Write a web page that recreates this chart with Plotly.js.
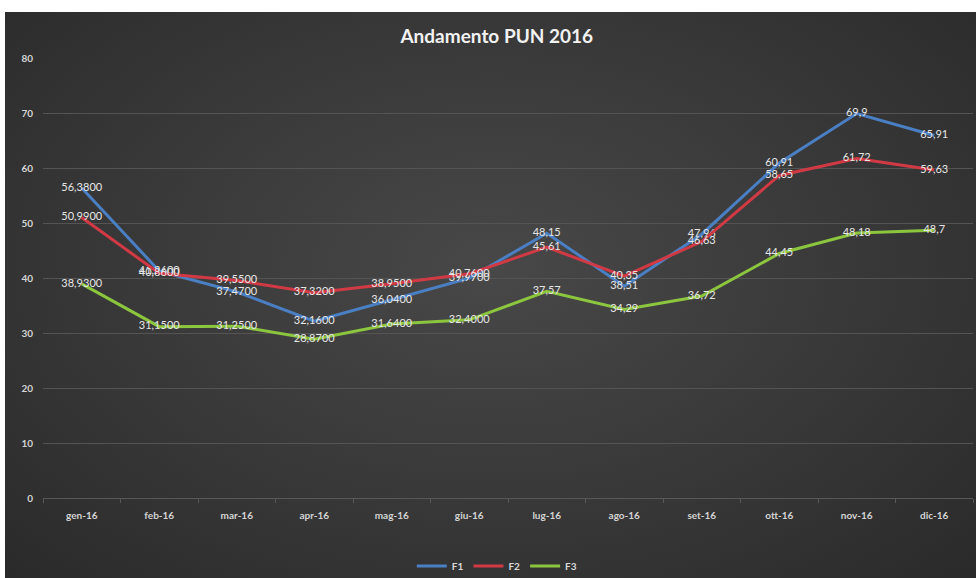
<!DOCTYPE html>
<html>
<head>
<meta charset="utf-8">
<script src="https://cdn.plot.ly/plotly-3.0.1.min.js"></script>
<style>
  html, body { margin:0; padding:0; background:#ffffff; }
  #wrap { position:relative; width:976px; height:578px; overflow:hidden; background:#ffffff; }
  #bg { position:absolute; left:5px; top:12px; right:0; bottom:0;
        background: radial-gradient(ellipse at 50% 45%, #484848 0%, #3b3b3b 45%, #2a2a2a 100%); }
  #chart { position:absolute; left:0; top:0; width:976px; height:578px; }
</style>
</head>
<body>
<div id="wrap"><div id="bg"></div><div id="chart"></div></div>
<script>
const months = ["gen-16","feb-16","mar-16","apr-16","mag-16","giu-16","lug-16","ago-16","set-16","ott-16","nov-16","dic-16"];
const f1 = [56.38, 41.26, 37.47, 32.16, 36.04, 39.97, 48.15, 38.51, 47.96, 60.91, 69.9, 65.91];
const f2 = [50.99, 40.86, 39.55, 37.32, 38.95, 40.76, 45.61, 40.35, 46.63, 58.65, 61.72, 59.63];
const f3 = [38.93, 31.15, 31.25, 28.87, 31.64, 32.40, 37.57, 34.29, 36.72, 44.45, 48.18, 48.7];
const yTicks = [0,10,20,30,40,50,60,70,80];

function labels(arr){
  return arr.map((v,i) => (i < 6 ? v.toFixed(4) : String(v)).replace('.', ','));
}

const labelFont = {family:"Lato, 'Open Sans', sans-serif", size:11, color:"#e6e6e6"};
function mk(name, y, color){
  return {
    type:'scatter', mode:'lines+text', name:name, x:months, y:y,
    text:labels(y), textposition:'middle center', textfont:labelFont,
    line:{color:color, width:3}, hoverinfo:'skip', cliponaxis:false
  };
}
const data = [
  mk('F1', f1, '#4a7fc4'),
  mk('F2', f2, '#d13a45'),
  mk('F3', f3, '#8cc63e')
];

const tickFont = {family:"Lato, 'Open Sans', sans-serif", size:10, color:"#d4d4d4", weight:700};
const layout = {
  width:976, height:578,
  paper_bgcolor:'rgba(0,0,0,0)', plot_bgcolor:'rgba(0,0,0,0)',
  margin:{l:43, r:3, t:58, b:80, pad:0},
  title:{text:'Andamento PUN 2016', x:0.509, xanchor:'center', y:1-36/578, yanchor:'middle',
         font:{family:"Lato, 'Open Sans', sans-serif", size:19, color:'#f2f2f2', weight:700}},
  showlegend:true,
  legend:{orientation:'h', x:0.509, xanchor:'center', xref:'container', y:1-566/578, yref:'container', yanchor:'middle',
          font:{family:"Lato, 'Open Sans', sans-serif", size:10, color:'#d9d9d9', weight:700},
          itemwidth:30, tracegroupgap:0, bgcolor:'rgba(0,0,0,0)'},
  xaxis:{type:'category', categoryorder:'array', categoryarray:months, range:[-0.5, 11.5],
         showgrid:false, showline:true, linecolor:'#585858', linewidth:1,
         ticks:'outside', tickson:'boundaries', ticklen:4, tickcolor:'#585858',
         tickfont:tickFont, ticklabelstandoff:8, zeroline:false, fixedrange:true},
  yaxis:{range:[0,80], tickvals:yTicks, ticktext:yTicks.map(String), showgrid:true, gridcolor:'#545454', gridwidth:1,
         zeroline:false, showline:false, ticks:'', tickfont:tickFont, ticklabelstandoff:9, fixedrange:true},
  hovermode:false
};
Plotly.newPlot('chart', data, layout, {staticPlot:true, displayModeBar:false});
</script>
</body>
</html>
